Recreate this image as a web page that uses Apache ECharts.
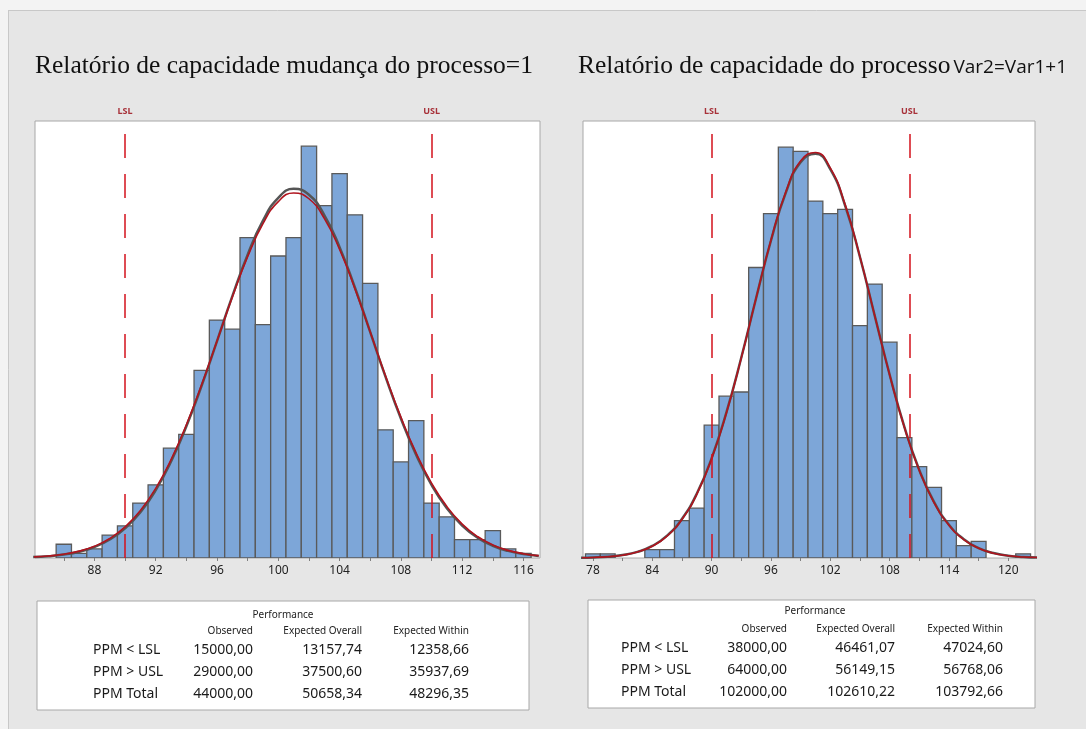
<!DOCTYPE html>
<html>
<head>
<meta charset="utf-8">
<style>
html,body{margin:0;padding:0;background:#e6e6e6;}
#chart{width:1086px;height:729px;}
</style>
<script src="https://cdn.jsdelivr.net/npm/echarts@6/dist/echarts.min.js"></script>
</head>
<body>
<div id="chart"></div>
<script>
// ---------- data ----------
var leftTitle = 'Relatório de capacidade mudança do processo=1';
var rightTitleA = 'Relatório de capacidade do processo';
var rightTitleB = 'Var2=Var1+1';

var specLimits = [90, 110];
var specNames = ['LSL', 'USL'];

var leftBinWidth = 1;
var leftMids = [86,87,88,89,90,91,92,93,94,95,96,97,98,99,100,101,102,103,104,105,106,107,108,109,110,111,112,113,114,115,116];
var leftCounts = [3,1,2,5,7,12,16,24,27,41,52,50,70,51,66,70,90,77,84,75,60,28,21,30,12,9,4,4,6,2,1];
var leftCurveX = [84,85,86,87,88,89,90,91,92,93,94,95,96,97,98,99,100,101,102,103,104,105,106,107,108,109,110,111,112,113,114,115,116,117];
var leftOverall = [0.23,0.45,0.83,1.50,2.58,4.27,6.79,10.37,15.23,21.49,29.12,37.92,47.44,57.02,65.85,73.06,77.89,79.77,78.51,74.23,67.44,58.86,49.37,39.78,30.79,22.90,16.36,11.24,7.41,4.70,2.86,1.67,0.94,0.51];
var leftWithin = [0.20,0.40,0.76,1.38,2.41,4.04,6.49,10.01,14.83,21.08,28.78,37.70,47.41,57.22,66.30,73.73,78.72,80.67,79.37,74.95,67.94,59.11,49.38,39.59,30.47,22.51,15.97,10.87,7.10,4.45,2.68,1.55,0.86,0.46];
var leftTicks = [86,88,90,92,94,96,98,100,102,104,106,108,110,112,114,116];
var leftTickLabels = [88,92,96,100,104,108,112,116];

var rightBinWidth = 1.5;
var rightMids = [78,79.5,81,82.5,84,85.5,87,88.5,90,91.5,93,94.5,96,97.5,99,100.5,102,103.5,105,106.5,108,109.5,111,112.5,114,115.5,117,118.5,120,121.5];
var rightCounts = [1,1,0,0,2,2,9,12,32,39,40,70,83,99,98,86,83,84,56,66,52,29,22,17,9,3,4,0,0,1];
var rightCurveX = [76.5,78,79.5,81,82.5,84,85.5,87,88.5,90,91.5,93,94.5,96,97.5,99,100.5,102,103.5,105,106.5,108,109.5,111,112.5,114,115.5,117,118.5,120,121.5,123];
var rightOverall = [0.05,0.13,0.31,0.68,1.44,2.84,5.29,9.29,15.33,23.85,34.94,48.17,62.63,76.58,88.20,95.66,97.72,94.00,85.15,72.63,58.35,44.14,31.42,21.07,13.31,7.92,4.44,2.34,1.16,0.54,0.24,0.10];
var rightWithin = [0.05,0.14,0.32,0.71,1.48,2.90,5.38,9.41,15.48,24.00,35.07,48.24,62.60,76.45,87.97,95.36,97.39,93.70,84.94,72.53,58.35,44.22,31.55,21.22,13.45,8.03,4.52,2.39,1.20,0.56,0.25,0.10];
var rightTicks = [78,81,84,87,90,93,96,99,102,105,108,111,114,117,120];
var rightTickLabels = [78,84,90,96,102,108,114,120];

var tableHeader = 'Performance';
var tableCols = ['Observed', 'Expected Overall', 'Expected Within'];
var tableRows = ['PPM < LSL', 'PPM > USL', 'PPM Total'];
var leftTable = [['15000,00','13157,74','12358,66'],['29000,00','37500,60','35937,69'],['44000,00','50658,34','48296,35']];
var rightTable = [['38000,00','46461,07','47024,60'],['64000,00','56149,15','56768,06'],['102000,00','102610,22','103792,66']];

// ---------- helpers ----------
function pairs(xs, ys){ return xs.map(function(x,i){ return [x, ys[i]]; }); }

function barRenderer(w){
  return function(params, api){
    var x = api.value(0), y = api.value(1);
    if (!y) return null;
    var p1 = api.coord([x - w/2, y]);
    var p2 = api.coord([x + w/2, 0]);
    return {
      type: 'rect',
      shape: {x: p1[0], y: p1[1], width: p2[0]-p1[0], height: p2[1]-p1[1]},
      style: {fill: '#7da6d8', stroke: '#5a5a5a', lineWidth: 1.3}
    };
  };
}

function specMarkLine(){
  return {
    silent: true,
    symbol: ['none','none'],
    animation: false,
    lineStyle: {color: '#d4121c', type: [24,16], width: 1.5},
    label: {position: 'end', color: '#a8323a', fontSize: 9, fontWeight: 'bold', fontFamily: 'Noto Sans', distance: 5},
    data: specLimits.map(function(v,i){ return {xAxis: v, label: {formatter: specNames[i]}}; })
  };
}

function xAxisCfg(idx, min, max, ticks, labels){
  return {
    gridIndex: idx, type: 'value', min: min, max: max,
    splitLine: {show: false},
    axisLine: {show: false},
    axisTick: {show: true, customValues: ticks, length: 3, inside: false, lineStyle: {color: '#808080'}},
    axisLabel: {customValues: labels, fontSize: 12, color: '#222', fontFamily: 'Noto Sans', margin: 7}
  };
}

function tableGraphics(box, centerX, headY, colX, rowLabelX, rowY, values){
  var els = [];
  els.push({type:'rect', shape:{x:box[0], y:box[1], width:box[2], height:box[3]}, style:{fill:'#fff', stroke:'#a8a8a8', lineWidth:1}});
  els.push({type:'text', x:centerX, y:headY[0], style:{text:tableHeader, textAlign:'center', textVerticalAlign:'middle', font:'10px "Noto Sans"', fill:'#222'}});
  tableCols.forEach(function(c,i){
    els.push({type:'text', x:colX[i], y:headY[1], style:{text:c, textAlign:'right', textVerticalAlign:'middle', font:'10px "Noto Sans"', fill:'#222'}});
  });
  tableRows.forEach(function(r,j){
    els.push({type:'text', x:rowLabelX, y:rowY[j], style:{text:r, textAlign:'left', textVerticalAlign:'middle', font:'14px "Noto Sans"', fill:'#1a1a1a'}});
    values[j].forEach(function(v,i){
      els.push({type:'text', x:colX[i], y:rowY[j], style:{text:v, textAlign:'right', textVerticalAlign:'middle', font:'14px "Noto Sans"', fill:'#1a1a1a'}});
    });
  });
  return els;
}

var chart = echarts.init(document.getElementById('chart'), null, {renderer: 'canvas'});

var graphics = [
  {type:'rect', shape:{x:0,y:0,width:1086,height:10}, style:{fill:'#f3f3f3'}},
  {type:'rect', shape:{x:0,y:0,width:8,height:729}, style:{fill:'#f3f3f3'}},
  {type:'line', shape:{x1:8,y1:10.5,x2:1086,y2:10.5}, style:{stroke:'#c8c8c8', lineWidth:1}},
  {type:'line', shape:{x1:8.5,y1:10,x2:8.5,y2:729}, style:{stroke:'#c8c8c8', lineWidth:1}}
].concat(
  tableGraphics([37,601,492,109], 283, [615.5,631.5], [253,362,469], 93, [650,672,694], leftTable),
  tableGraphics([588,600,447,108], 815, [611.5,629], [787,895,1003], 621, [648,670,692], rightTable)
);

var titleRich = {
  a: {fontFamily: 'Liberation Serif', fontSize: 25.5, fontWeight: 'normal', color: '#111', verticalAlign: 'bottom', lineHeight: 28},
  b: {fontFamily: 'Open Sans', fontSize: 19, fontWeight: 'normal', color: '#111', verticalAlign: 'bottom', lineHeight: 28, padding: [0,0,2,3]}
};

var option = {
  backgroundColor: '#e6e6e6',
  animation: false,
  title: [
    {left: 35, top: 51, padding: 0, text: '{a|' + leftTitle + '}',
     textStyle: {fontWeight: 'normal', rich: titleRich}},
    {left: 578, top: 51, padding: 0, text: '{a|' + rightTitleA + '}{b|' + rightTitleB + '}',
     textStyle: {fontWeight: 'normal', rich: titleRich}}
  ],
  grid: [
    {left: 35, top: 121, width: 505, height: 437, show: true, backgroundColor: '#fff', borderColor: '#a8a8a8', borderWidth: 1},
    {left: 583, top: 121, width: 452, height: 437, show: true, backgroundColor: '#fff', borderColor: '#a8a8a8', borderWidth: 1}
  ],
  xAxis: [
    xAxisCfg(0, 84.12, 117.08, leftTicks, leftTickLabels),
    xAxisCfg(1, 77.0, 122.7, rightTicks, rightTickLabels)
  ],
  yAxis: [
    {gridIndex: 0, type: 'value', min: 0, max: 95.5, show: false},
    {gridIndex: 1, type: 'value', min: 0, max: 105.3, show: false}
  ],
  graphic: graphics,
  series: [
    {type: 'custom', xAxisIndex: 0, yAxisIndex: 0, renderItem: barRenderer(leftBinWidth), clip: true,
     data: pairs(leftMids, leftCounts), markLine: specMarkLine(), z: 2},
    {type: 'line', xAxisIndex: 0, yAxisIndex: 0, data: pairs(leftCurveX, leftWithin), smooth: true, showSymbol: false,
     lineStyle: {color: '#555555', width: 2.5}, clip: true, z: 3},
    {type: 'line', xAxisIndex: 0, yAxisIndex: 0, data: pairs(leftCurveX, leftOverall), smooth: true, showSymbol: false,
     lineStyle: {color: '#b0141e', width: 1.6}, clip: true, z: 4},
    {type: 'custom', xAxisIndex: 1, yAxisIndex: 1, renderItem: barRenderer(rightBinWidth), clip: true,
     data: pairs(rightMids, rightCounts), markLine: specMarkLine(), z: 2},
    {type: 'line', xAxisIndex: 1, yAxisIndex: 1, data: pairs(rightCurveX, rightWithin), smooth: true, showSymbol: false,
     lineStyle: {color: '#555555', width: 2.5}, clip: true, z: 3},
    {type: 'line', xAxisIndex: 1, yAxisIndex: 1, data: pairs(rightCurveX, rightOverall), smooth: true, showSymbol: false,
     lineStyle: {color: '#b0141e', width: 1.6}, clip: true, z: 4}
  ]
};
chart.setOption(option);
</script>
</body>
</html>
